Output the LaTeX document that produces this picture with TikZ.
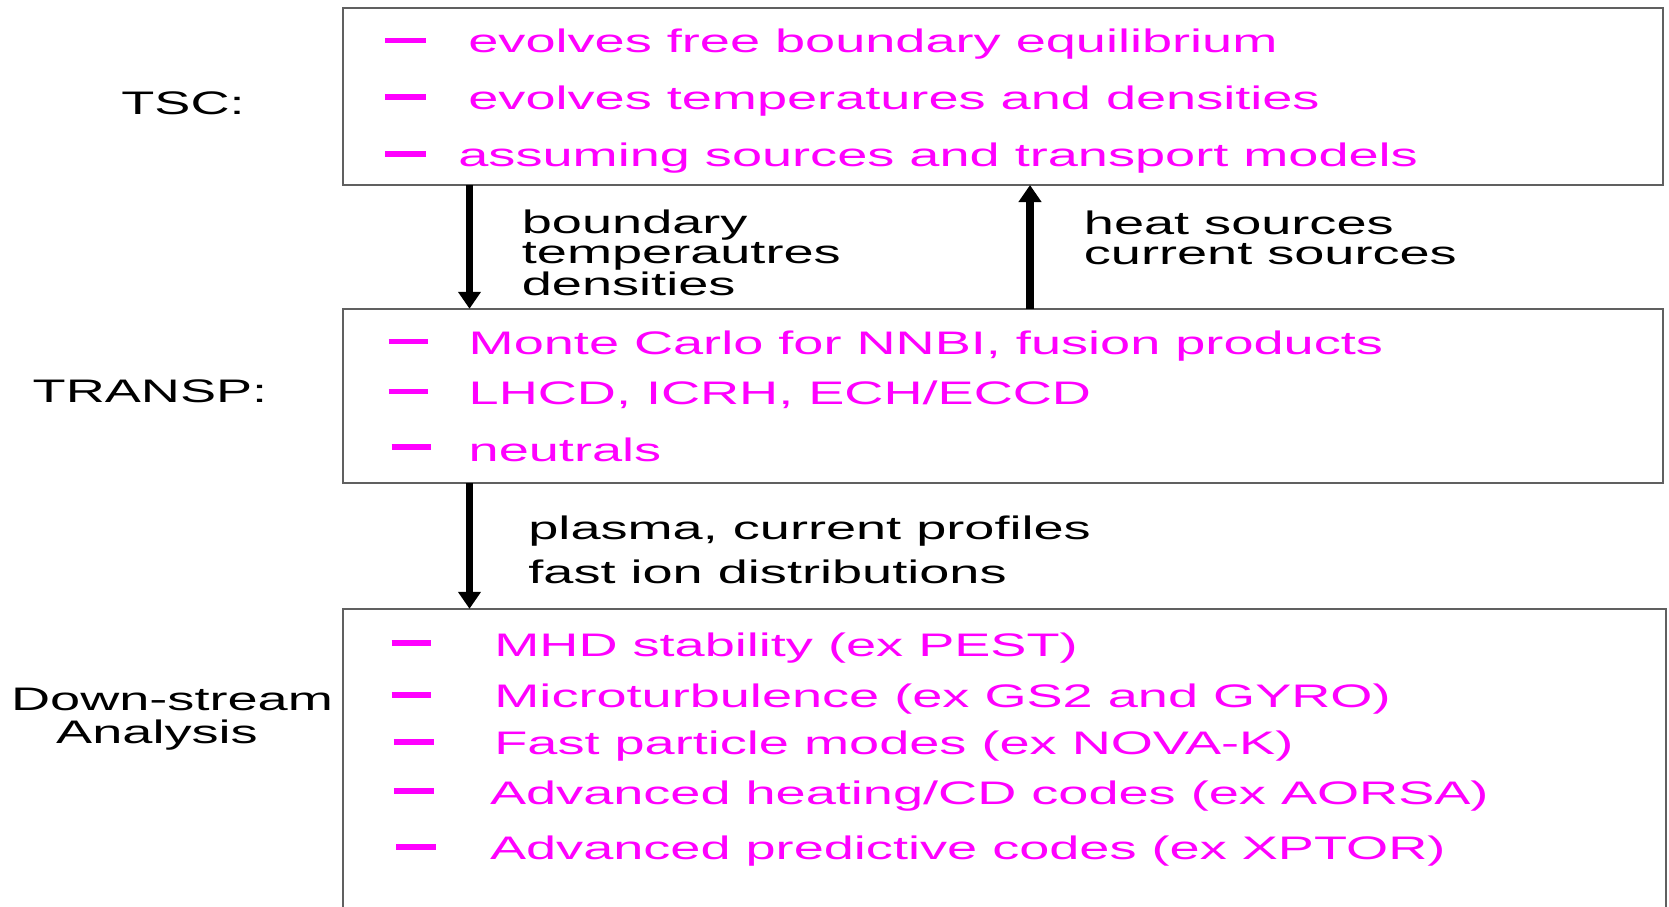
\documentclass[tikz,border=0pt]{standalone}
\usepackage{fontspec}
\setmainfont{Liberation Sans}[FakeStretch=1.66]
\usetikzlibrary{arrows.meta}
\definecolor{mag}{RGB}{255,0,255}
\definecolor{boxgray}{RGB}{96,96,96}
\begin{document}
\begin{tikzpicture}[x=0.5pt,y=-0.5pt,
 box/.style={draw=boxgray,line width=0.8pt,rectangle,inner sep=0pt,outer sep=0pt},
 item/.style={anchor=west,inner sep=0pt,text=mag,font=\fontsize{16.3pt}{19pt}\selectfont},
 lbl/.style={inner sep=0pt,font=\fontsize{16.3pt}{19pt}\selectfont},
 bul/.style={draw=mag,line width=2.7pt},
 arr/.style={line width=3.6pt,-{Triangle[width=11pt,length=8.5pt]}}]
\useasboundingbox (0,0) rectangle (1669,906);
\clip (0,0) rectangle (1669,906);
% boxes
\node[box,minimum width=660pt,minimum height=88.5pt] (tsc) at (1003,96.5) {};
\node[box,minimum width=660pt,minimum height=87.25pt] (transp) at (1003,396) {};
\node[box,minimum width=661.5pt,minimum height=170.6pt] (down) at (1004.5,779.4) {};
% side labels
\node[lbl] (ltsc) at (183,103) {TSC:};
\node[lbl] (ltransp) at (150,391.5) {TRANSP:};
\node[lbl] (ldown) at (172,699) {Down-stream};
\node[lbl] (lana) at (157,735) {Analysis};
% TSC items
\draw[bul] (385,40.5) -- (426,40.5);
\draw[bul] (385,97) -- (426,97);
\draw[bul] (385,154) -- (426,154);
\node[item] (t1) at (468,44) {evolves free boundary equilibrium};
\node[item] (t2) at (468,101) {evolves temperatures and densities};
\node[item] (t3) at (458,158) {assuming sources and transport models};
% TRANSP items
\draw[bul] (388.5,341.7) -- (428,341.7);
\draw[bul] (388.5,391.7) -- (428,391.7);
\draw[bul] (391.7,447) -- (431,447);
\node[item] (r1) at (468.3,345.7) {Monte Carlo for NNBI, fusion products};
\node[item] (r2) at (468.3,394.7) {LHCD, ICRH, ECH/ECCD};
\node[item] (r3) at (468.3,450) {neutrals};
% Down-stream items
\draw[bul] (391.7,643) -- (431,643);
\draw[bul] (391.7,695) -- (431,695);
\draw[bul] (393.8,742) -- (434.3,742);
\draw[bul] (393.8,791) -- (434.3,791);
\draw[bul] (396,847) -- (436.4,847);
\node[item] (d1) at (494,648) {MHD stability (ex PEST)};
\node[item] (d2) at (494,699) {Microturbulence (ex GS2 and GYRO)};
\node[item] (d3) at (494,746) {Fast particle modes (ex NOVA-K)};
\node[item] (d4) at (489.6,796) {Advanced heating/CD codes (ex AORSA)};
\node[item] (d5) at (489.6,851) {Advanced predictive codes (ex XPTOR)};
% arrows
\coordinate (xa) at (469.5,0);
\coordinate (xb) at (1030,0);
\draw[arr] (tsc.south -| xa) -- (transp.north -| xa);
\draw[arr] (transp.north -| xb) -- (tsc.south -| xb);
\draw[arr] (transp.south -| xa) -- (down.north -| xa);
% arrow labels
\node[lbl,anchor=west,align=left,font=\fontsize{16.3pt}{14.85pt}\selectfont] (la) at (521.5,253) {boundary\\temperautres\\densities};
\node[lbl,anchor=west,align=left,font=\fontsize{16.3pt}{14.85pt}\selectfont] (lb) at (1083.5,237.5) {heat sources\\current sources};
\node[lbl,anchor=west,align=left,font=\fontsize{16.3pt}{21.8pt}\selectfont] (lc) at (528,550) {plasma, current profiles\\fast ion distributions};
\end{tikzpicture}
\end{document}
